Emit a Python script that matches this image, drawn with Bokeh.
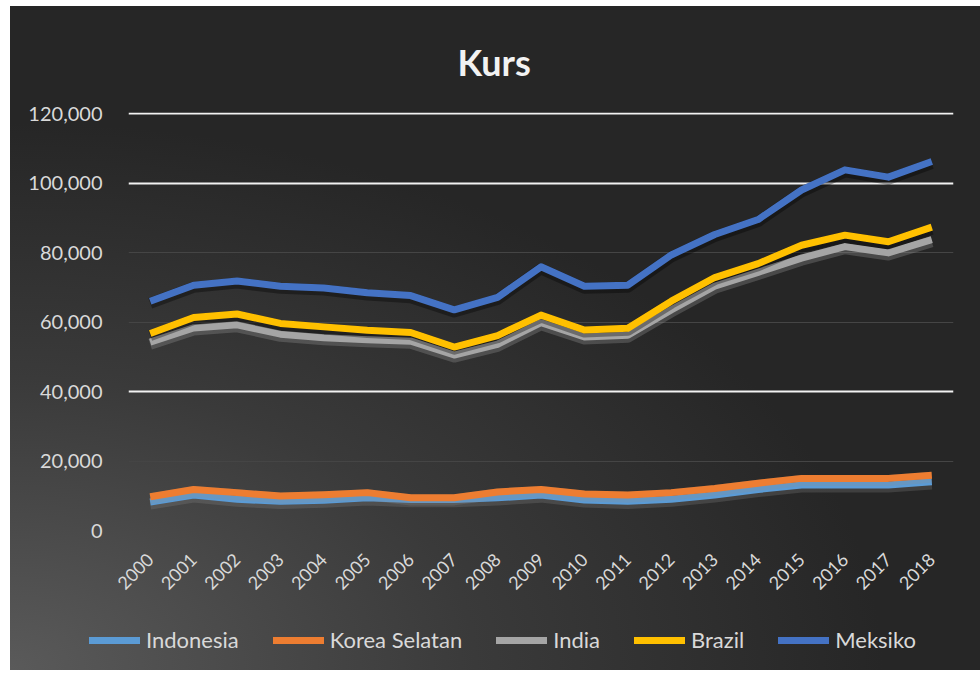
import math
from bokeh.plotting import figure
from bokeh.layouts import column
from bokeh.models import (FactorRange, Range1d, Grid, Div,
                          FixedTicker, NumeralTickFormatter, ColumnDataSource)
from bokeh.transform import dodge
from bokeh.embed import file_html
from bokeh.resources import INLINE

years = [str(y) for y in range(2000, 2019)]

indonesia = [8200, 10200, 9000, 8400, 8700, 9400, 8900, 8900, 9400, 10200,
             8800, 8400, 9000, 10200, 11800, 13100, 13100, 13100, 14000]
korea_selatan = [9700, 11800, 10900, 9900, 10300, 10900, 9400, 9400, 11100, 11800,
                 10500, 10200, 10900, 12100, 13600, 15000, 15000, 15000, 15900]
india = [54200, 58300, 59200, 56500, 55500, 54900, 54500, 50500, 53600, 59800,
         55700, 56200, 63500, 70300, 74300, 78400, 81700, 79900, 83700]
brazil = [56700, 61300, 62300, 59600, 58600, 57600, 57000, 52800, 56100, 62000,
          57700, 58200, 66000, 72800, 76800, 82100, 85000, 83100, 87300]
meksiko = [66000, 70600, 71800, 70300, 69800, 68400, 67600, 63500, 67100, 75900,
           70300, 70600, 79300, 85200, 89500, 98000, 103800, 101700, 106200]

series = [
    ("Indonesia", indonesia, "#5B9BD5", "#8c8c8c", 0.25),
    ("Korea Selatan", korea_selatan, "#ED7D31", "#8c8c8c", 0.25),
    ("India", india, "#A5A5A5", "#9a9a9a", 0.30),
    ("Brazil", brazil, "#FFC000", "#000000", 0.35),
    ("Meksiko", meksiko, "#4472C4", "#000000", 0.35),
]
y_ticks = [0, 20000, 40000, 60000, 80000, 100000, 120000]

FONT = "Lato"
TXT = "#d9d9d9"

p = figure(x_range=FactorRange(*years), y_range=Range1d(0, 120300),
           width=970, height=604, output_backend="svg", toolbar_location=None,
           min_border_left=118, min_border_right=27, min_border_top=106,
           min_border_bottom=80)
p.background_fill_color = None
p.border_fill_color = None
p.outline_line_color = None

p.title.text = "Kurs"
p.title.align = "left"
p.title.offset = 329
p.title.standoff = 58
p.title.text_font = FONT
p.title.text_font_size = "36px"
p.title.text_font_style = "bold"
p.title.text_color = "#f2f2f2"

p.yaxis.ticker = FixedTicker(ticks=y_ticks)
p.yaxis.formatter = NumeralTickFormatter(format="0,0")
for ax in (p.xaxis, p.yaxis):
    ax.axis_line_color = None
    ax.major_tick_line_color = None
    ax.minor_tick_line_color = None
    ax.major_label_text_color = TXT
    ax.major_label_text_font = FONT
p.yaxis.major_label_text_font_size = "20px"
p.yaxis.major_label_standoff = 20
p.xaxis.major_label_text_font_size = "18px"
p.xaxis.major_label_orientation = math.pi / 4
p.xaxis.major_label_standoff = 20

p.xgrid.visible = False
p.ygrid.ticker = FixedTicker(ticks=[0, 20000, 60000, 80000])
p.ygrid.grid_line_color = "#454545"
p.ygrid.grid_line_width = 1
white_grid = Grid(dimension=1, ticker=FixedTicker(ticks=[40000, 100000, 120000]),
                  grid_line_color="#f2f2f2", grid_line_width=2)
p.add_layout(white_grid)

for name, vals, color, shadow, alpha in series:
    src = ColumnDataSource(dict(x=years, y=vals))
    p.line(x="x", y=dodge("y", -600), source=src, line_color=shadow,
           line_alpha=alpha, line_width=11, line_join="round")
    p.line(x="x", y="y", source=src, line_color=color, line_width=7,
           line_join="round")

# legend strip below the chart (HTML, so it can sit left of the plot frame)
parts = []
for name, vals, color, shadow, alpha in series:
    parts.append(
        f'<span style="display:inline-block;width:51px;height:7px;'
        f'background:{color};margin-right:6px;"></span>'
        f'<span style="margin-right:34px;">{name}</span>'
    )
legend_html = (
    '<div style="display:flex;align-items:center;height:60px;width:960px;'
    f'padding-left:79px;box-sizing:border-box;font-family:{FONT};'
    f'font-size:22px;color:{TXT};white-space:nowrap;">'
    + "".join(parts) + '</div>'
)
legend_div = Div(text=legend_html, width=970, height=60, margin=0)

layout = column(p, legend_div, spacing=0, width=970, height=664)
layout.styles = {
    "background": "radial-gradient(ellipse 120% 110% at 0% 100%, #5a5a5a 0%, #3a3a3a 40%, #262626 75%)",
    "margin-left": "10px",
    "margin-top": "6px",
}

open("out.html", "w").write(file_html(layout, INLINE))
